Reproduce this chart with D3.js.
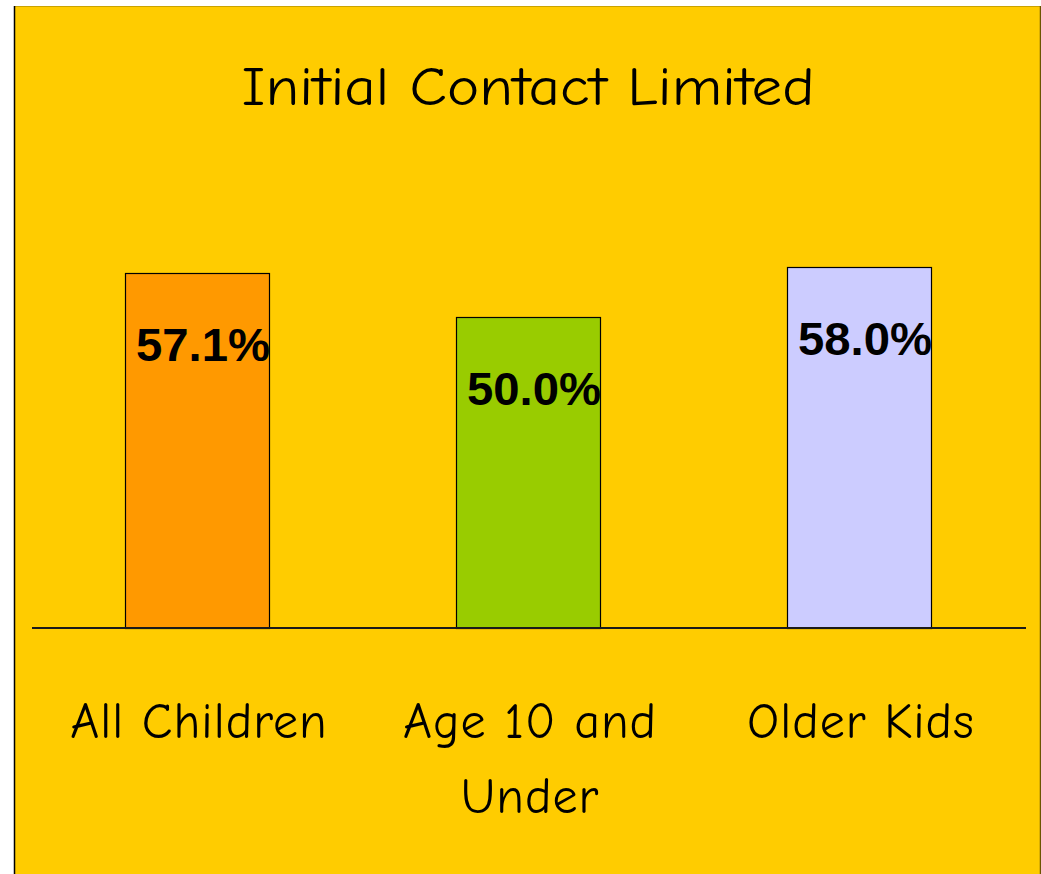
<!DOCTYPE html>
<html>
<head>
<meta charset="utf-8">
<script src="https://cdn.jsdelivr.net/npm/d3@7"></script>
<style>
  html, body { margin: 0; padding: 0; background: #ffffff; }
  svg { display: block; }
</style>
</head>
<body>
<script>
// ---- data ----
const title = "Initial Contact Limited";
const categories = ["All Children", "Age 10 and Under", "Older Kids"];
const categoryLines = [["All Children"], ["Age 10 and", "Under"], ["Older Kids"]];
const values = [57.1, 50.0, 58.0];
const valueLabels = ["57.1%", "50.0%", "58.0%"];
const barColors = ["#FF9900", "#99CC00", "#CCCCFF"];

// ---- layout ----
const W = 1041, H = 874;
const comic = "'Comic Sans MS', 'Comic Neue', 'Chalkboard SE', Lato, 'Open Sans', sans-serif";

const svg = d3.select("body").append("svg")
  .attr("width", W).attr("height", H);

// panel background
svg.append("rect").attr("x", 14).attr("y", 6).attr("width", 1026).attr("height", H)
  .attr("fill", "#FFCC00");
svg.append("line").attr("x1", 14).attr("x2", 1040).attr("y1", 6.5).attr("y2", 6.5)
  .attr("stroke", "#C9A200").attr("stroke-width", 1);
svg.append("line").attr("x1", 14.5).attr("x2", 14.5).attr("y1", 6).attr("y2", H)
  .attr("stroke", "#000").attr("stroke-width", 1.5);
svg.append("line").attr("x1", 1040.5).attr("x2", 1040.5).attr("y1", 6).attr("y2", H)
  .attr("stroke", "#6b5500").attr("stroke-width", 1.5);

// scales
const x = d3.scaleBand().domain(categories).range([31, 1025]).paddingInner(0.565).paddingOuter(0.284);
const y = d3.scaleLinear().domain([0, 100]).range([628, 6]);

// title
svg.append("text")
  .attr("x", 528).attr("y", 105)
  .attr("text-anchor", "middle")
  .attr("font-family", comic)
  .attr("font-size", 54)
  .attr("fill", "#000")
  .attr("textLength", 573).attr("lengthAdjust", "spacingAndGlyphs")
  .text(title);

// bars
svg.selectAll("rect.bar").data(values).enter().append("rect")
  .attr("class", "bar")
  .attr("x", (d, i) => Math.round(x(categories[i])) + 0.5)
  .attr("y", d => Math.round(y(d)) + 0.5)
  .attr("width", Math.round(x.bandwidth()))
  .attr("height", d => 628 - Math.round(y(d)))
  .attr("fill", (d, i) => barColors[i])
  .attr("stroke", "#000").attr("stroke-width", 1.2);

// value labels
svg.selectAll("text.val").data(values).enter().append("text")
  .attr("class", "val")
  .attr("x", (d, i) => x(categories[i]) + x.bandwidth() / 2 + 6)
  .attr("y", d => y(d) + 88)
  .attr("text-anchor", "middle")
  .attr("font-family", "'Liberation Sans', Arial, sans-serif")
  .attr("font-weight", "bold")
  .attr("font-size", 47)
  .attr("textLength", 134).attr("lengthAdjust", "spacingAndGlyphs")
  .attr("fill", "#000")
  .text((d, i) => valueLabels[i]);

// baseline axis
svg.append("g")
  .attr("transform", "translate(0,628)")
  .call(d3.axisBottom(x).tickSize(0).tickFormat(""))
  .call(g => g.select(".domain").attr("d", "M32,0H1026").attr("stroke", "#1a1a1a").attr("stroke-width", 2));

// category labels
const catG = svg.selectAll("g.cat").data(categories).enter().append("g").attr("class", "cat");
catG.each(function(c, i) {
  const g = d3.select(this);
  categoryLines[i].forEach((line, j) => {
    g.append("text")
      .attr("x", x(c) + x.bandwidth() / 2 + 2)
      .attr("y", 738 + j * 75)
      .attr("text-anchor", "middle")
      .attr("font-family", comic)
      .attr("font-size", 50)
      .attr("letter-spacing", 1)
      .attr("fill", "#000")
      .text(line);
  });
});
</script>
</body>
</html>
